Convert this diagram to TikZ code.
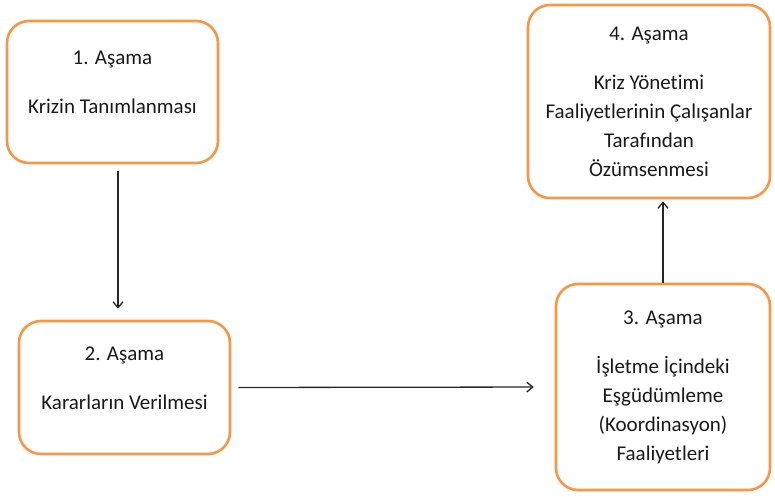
\documentclass[tikz,border=0pt]{standalone}
\usepackage{fontspec}
\setmainfont{Carlito}[Ligatures=NoCommon]
\usepackage{tikz}
\usetikzlibrary{arrows,arrows.meta,positioning}
\definecolor{asamaturuncu}{HTML}{F79646}

\begin{document}
\begin{tikzpicture}[x=1pt,y=-1pt,
  asama/.style={draw=asamaturuncu,line width=2.6pt,rounded corners=22pt,align=center,inner sep=0pt,text=black!90,font=\fontsize{21}{29}\selectfont},
  ok/.style={-{Straight Barb[length=6pt,width=10pt]},line width=1.3pt,black!85}]
\useasboundingbox (0,0) rectangle (775,497);
\node[asama,minimum width=211pt,minimum height=142pt] (A1) at (112.5,92) {1. Aşama\\[20pt]Krizin Tanımlanması\\[-10pt]\mbox{}};
\node[asama,minimum width=211pt,minimum height=133pt] (A2) at (124.5,387.5) {2. Aşama\\[20pt]Kararların Verilmesi\\[-10pt]\mbox{}};
\node[asama,minimum width=214pt,minimum height=206pt] (A3) at (663,387) {3. Aşama\\[20pt]İşletme İçindeki\\Eşgüdümleme\\(Koordinasyon)\\Faaliyetleri};
\node[asama,minimum width=242pt,minimum height=193pt] (A4) at (649,101.5) {4. Aşama\\[20pt]Kriz Yönetimi\\Faaliyetlerinin Çalışanlar\\Tarafından\\Özümsenmesi};
\draw[ok,shorten <=7pt,shorten >=11pt] ([xshift=5.5pt]A1.south) -- ([xshift=-6.5pt]A2.north);
\draw[ok,shorten <=7pt,shorten >=21pt] (A2.east) -- (A3.west);
\draw[ok,shorten >=2pt] (A3.north) -- (A3.north |- A4.south);
\end{tikzpicture}
\end{document}
